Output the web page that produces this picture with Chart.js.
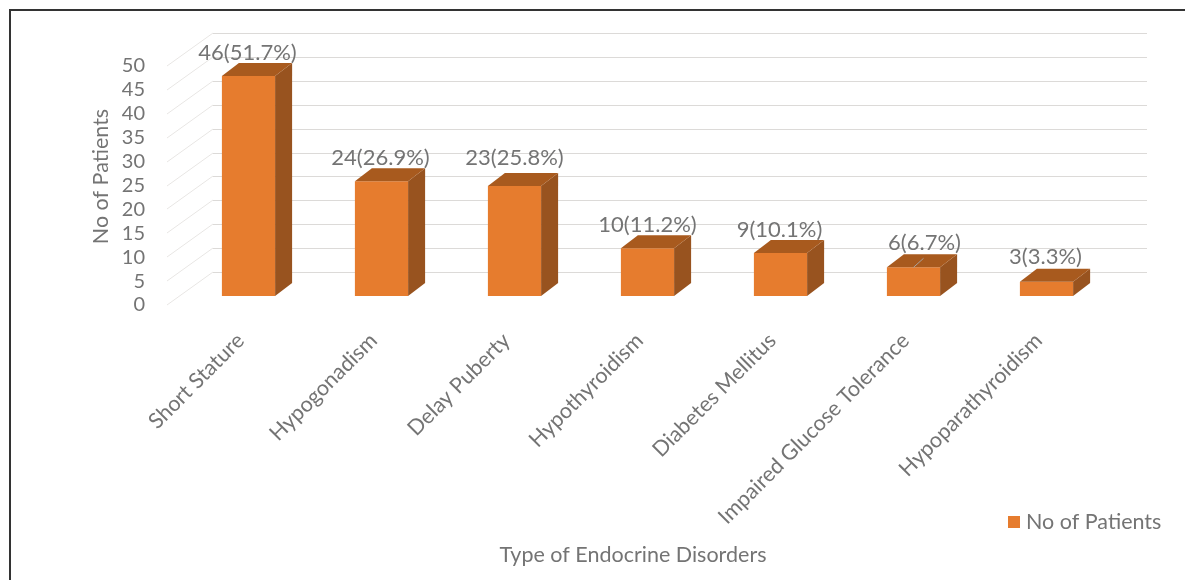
<!DOCTYPE html>
<html>
<head>
<meta charset="utf-8">
<title>Type of Endocrine Disorders</title>
<script src="https://cdn.jsdelivr.net/npm/chart.js@4/dist/chart.umd.min.js"></script>
<style>
  html, body { margin: 0; padding: 0; background: #fff; overflow: hidden; }
  #wrap { position: relative; width: 1185px; height: 580px; }
  #frame { position: absolute; left: 9px; top: 9px; right: 0; bottom: 0; border-left: 2px solid #333; border-top: 2px solid #333; }
  #myChart { position: absolute; left: 0; top: 0; }
</style>
</head>
<body>
<div id="wrap">
  <div id="frame"></div>
  <canvas id="myChart" width="1185" height="580"></canvas>
</div>
<script>
var categories = ['Short Stature', 'Hypogonadism', 'Delay Puberty', 'Hypothyroidism', 'Diabetes Mellitus', 'Impaired Glucose Tolerance', 'Hypoparathyroidism'];
var patients = [46, 24, 23, 10, 9, 6, 3];
var percents = ['51.7', '26.9', '25.8', '11.2', '10.1', '6.7', '3.3'];
var yTicks = [0, 5, 10, 15, 20, 25, 30, 35, 40, 45, 50];

// label nudges from the top of each bar, the 6th one sits off to the side with a leader
var labelDx = [-1, -1, 0, 0, -1, 11, -1];
var labelDy = [-23, -23, -28, -23, -23, -24, -25];

var orange = '#e67c2e';
var orangeSide = '#98531f';
var orangeTop = '#a85a1e';
var textColor = '#747474';
var fontName = 'Lato';

var depthX = 17, depthY = 13;   // bar depth
var wallX = 213, wallDy = 24;   // back wall of the fake 3d box

Chart.defaults.font.family = fontName;

// back wall lines and the diagonals on the left side
var wallPlugin = {
  id: 'wall',
  beforeDatasetsDraw: function(chart) {
    var c = chart.ctx, y = chart.scales.y;
    c.save();
    c.lineWidth = 1;
    yTicks.forEach(function(v) {
      var py = Math.round(y.getPixelForValue(v));
      c.strokeStyle = '#e8e6e4';
      c.beginPath();
      c.moveTo(167, py + 9);
      c.lineTo(wallX, py - wallDy);
      c.stroke();
      c.strokeStyle = '#dcdad8';
      c.beginPath();
      c.moveTo(wallX, py - wallDy + 0.5);
      c.lineTo(1147, py - wallDy + 0.5);
      c.stroke();
    });
    c.restore();
  }
};

// side and top faces of the bars, then value labels, axis name and legend
var facesPlugin = {
  id: 'faces',
  afterDatasetsDraw: function(chart) {
    var c = chart.ctx;
    var bars = chart.getDatasetMeta(0).data;
    c.save();
    bars.forEach(function(b) {
      var l = b.x - b.width / 2, r = b.x + b.width / 2;
      c.fillStyle = orangeSide;
      c.beginPath();
      c.moveTo(r, b.y);
      c.lineTo(r + depthX, b.y - depthY);
      c.lineTo(r + depthX, b.base - depthY);
      c.lineTo(r, b.base);
      c.closePath();
      c.fill();
      c.fillStyle = orangeTop;
      c.beginPath();
      c.moveTo(l, b.y);
      c.lineTo(l + depthX, b.y - depthY);
      c.lineTo(r + depthX, b.y - depthY);
      c.lineTo(r, b.y);
      c.closePath();
      c.fill();
    });

    // leader line of the 6(6.7%) label
    var lead = bars[5];
    c.strokeStyle = '#a8a29c';
    c.lineWidth = 1;
    c.beginPath();
    c.moveTo(lead.x, lead.y);
    c.lineTo(lead.x + 10, lead.y - 9);
    c.stroke();

    c.fillStyle = textColor;
    c.font = '22px ' + fontName;
    c.textAlign = 'center';
    c.textBaseline = 'middle';
    bars.forEach(function(b, i) {
      c.fillText(patients[i] + '(' + percents[i] + '%)', b.x + labelDx[i], b.y + labelDy[i]);
    });

    c.font = '21.5px ' + fontName;
    c.fillText('Type of Endocrine Disorders', 633, 555);

    c.textAlign = 'left';
    c.fillText(chart.data.datasets[0].label, 1026, 522);
    c.fillStyle = orange;
    c.fillRect(1008, 516, 12, 12);
    c.restore();
  }
};

var ctx = document.getElementById('myChart').getContext('2d');
var chart = new Chart(ctx, {
  type: 'bar',
  data: {
    labels: categories,
    datasets: [{
      label: 'No of Patients',
      data: patients,
      backgroundColor: orange,
      borderWidth: 0,
      categoryPercentage: 1,
      barPercentage: 0.4
    }]
  },
  options: {
    responsive: false,
    animation: false,
    events: [],
    layout: { padding: { left: 88, right: 72, top: 57, bottom: 0 } },
    scales: {
      x: {
        grid: { display: false },
        border: { display: false },
        afterFit: function(scale) { scale.height = 284; },
        ticks: {
          autoSkip: false,
          minRotation: 45,
          maxRotation: 45,
          padding: 24,
          labelOffset: -8,
          color: textColor,
          font: { size: 21.5 }
        }
      },
      y: {
        min: 0,
        max: 50,
        grid: { display: false, drawTicks: false },
        border: { display: false },
        afterFit: function(scale) { scale.width = 94; },
        title: {
          display: true,
          text: 'No of Patients',
          color: textColor,
          font: { size: 21.5 },
          padding: { top: 0, bottom: 10 }
        },
        ticks: {
          autoSkip: false,
          stepSize: 5,
          padding: 37,
          labelOffset: 9,
          color: textColor,
          font: { size: 20 }
        }
      }
    },
    plugins: {
      legend: { display: false },
      tooltip: { enabled: false }
    }
  },
  plugins: [wallPlugin, facesPlugin]
});
</script>
</body>
</html>
